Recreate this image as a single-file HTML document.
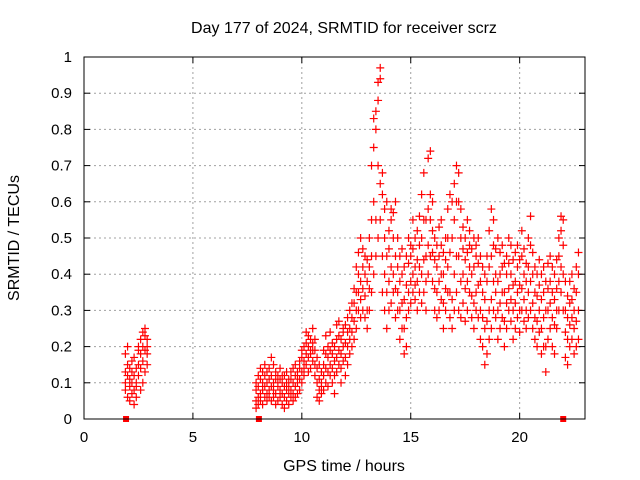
<!DOCTYPE html>
<html><head><meta charset="utf-8"><style>
body{margin:0;background:#fff}
svg{display:block;font-family:"Liberation Sans",sans-serif;font-size:15px}
</style></head><body>
<svg id="chart" width="640" height="480" viewBox="0 0 640 480">
<rect width="640" height="480" fill="#fff"/>
<g id="grid"></g>
<g id="pts"></g>
<rect x="84" y="57" width="501" height="362" fill="none" stroke="#000" stroke-width="1"/>
<g id="ticks"></g>
<text x="344" y="33" text-anchor="middle" style="font-size:16px">Day 177 of 2024, SRMTID for receiver scrz</text>
<text x="344" y="471" text-anchor="middle" style="font-size:16px">GPS time / hours</text>
<text transform="translate(19,238) rotate(-90)" text-anchor="middle" style="font-size:16px">SRMTID / TECUs</text>
</svg>
<script>
const xTicks=[0,5,10,15,20];
const yTicks=[0,0.1,0.2,0.3,0.4,0.5,0.6,0.7,0.8,0.9,1];
const yTickLabels=["0","0.1","0.2","0.3","0.4","0.5","0.6","0.7","0.8","0.9","1"];
const squareTimes=[1.93,8.03,22.0];
const times=[1.9,2.0,2.1,2.2,2.3,2.4,2.5,2.6,2.7,2.8,2.9,
7.9,8.0,8.1,8.2,8.3,8.4,8.5,8.6,8.7,8.8,8.9,9.0,9.1,9.2,9.3,9.4,9.5,9.6,9.7,9.8,9.9,
10.0,10.1,10.2,10.3,10.4,10.5,10.6,10.7,10.8,10.9,11.0,11.1,11.2,11.3,11.4,11.5,11.6,11.7,11.8,11.9,
12.0,12.1,12.2,12.3,12.4,12.5,12.6,12.7,12.8,12.9,13.0,13.1,13.2,13.3,13.4,13.5,13.6,13.7,13.8,13.9,
14.0,14.1,14.2,14.3,14.4,14.5,14.6,14.7,14.8,14.9,15.0,15.1,15.2,15.3,15.4,15.5,15.6,15.7,15.8,15.9,
16.0,16.1,16.2,16.3,16.4,16.5,16.6,16.7,16.8,16.9,17.0,17.1,17.2,17.3,17.4,17.5,17.6,17.7,17.8,17.9,
18.0,18.1,18.2,18.3,18.4,18.5,18.6,18.7,18.8,18.9,19.0,19.1,19.2,19.3,19.4,19.5,19.6,19.7,19.8,19.9,
20.0,20.1,20.2,20.3,20.4,20.5,20.6,20.7,20.8,20.9,21.0,21.1,21.2,21.3,21.4,21.5,21.6,21.7,21.8,21.9,
22.0,22.1,22.2,22.3,22.4,22.5,22.6,22.7];
const values=[
[.08,.13,.18,.10],[.06,.12,.2,.15],[.05,.09,.14,.11],[.07,.1,.16,.13],[.04,.08,.12,.17],[.06,.1,.14,.09],[.12,.15,.19,.2],[.08,.14,.18,.22],[.1,.16,.2,.24],[.13,.19,.23,.25],[.15,.2,.22,.18],
[.05,.08,.1,.03],[.06,.09,.12,.04],[.05,.07,.11,.14],[.04,.08,.1,.13],[.06,.09,.12,.15],[.07,.1,.05,.13],[.08,.11,.06,.14],[.05,.09,.12,.17],[.06,.08,.1,.15],[.04,.07,.11,.13],[.05,.09,.12,.1],[.06,.08,.11,.14],[.04,.07,.1,.12],[.03,.06,.09,.12],[.05,.08,.1,.13],[.04,.07,.09,.11],[.06,.08,.11,.13],[.05,.07,.1,.14],[.06,.09,.12,.15],[.07,.1,.13,.12],[.08,.11,.14,.16],
[.1,.13,.17,.19],[.12,.16,.2,.14],[.15,.18,.21,.24],[.13,.17,.2,.23],[.14,.18,.22,.19],[.16,.19,.21,.25],[.12,.15,.19,.22],[.06,.1,.14,.17],[.05,.08,.11,.15],[.07,.1,.13,.09],[.08,.12,.15,.19],[.1,.14,.18,.23],[.09,.13,.17,.2],[.12,.15,.19,.24],[.1,.14,.18,.21],[.07,.12,.16,.2],[.13,.17,.22,.26],[.15,.19,.23,.27],[.1,.14,.18,.22],[.16,.2,.24,.25],
[.12,.17,.21,.26],[.15,.2,.24,.28],[.18,.22,.25,.3],[.2,.24,.28,.32],[.22,.27,.32,.36],[.25,.3,.35,.42],[.3,.35,.4,.46],[.28,.33,.38,.5],[.3,.36,.42,.47],[.28,.34,.4,.45],[.25,.3,.38,.44],[.3,.36,.42,.5],[.35,.45,.55,.7],[.4,.6,.75,.83],[.45,.55,.8,.85],[.5,.7,.88,.93],[.55,.65,.94,.97],[.35,.45,.62,.68],[.3,.4,.5,.58],[.25,.35,.45,.6],
[.3,.38,.47,.52],[.32,.42,.55,.58],[.35,.4,.5,.57],[.28,.36,.45,.6],[.3,.35,.42,.5],[.22,.3,.38,.45],[.25,.32,.4,.47],[.18,.25,.33,.42],[.2,.28,.37,.45],[.3,.35,.43,.5],[.32,.38,.45,.48],[.35,.4,.47,.55],[.33,.37,.42,.5],[.3,.38,.44,.52],[.35,.42,.48,.56],[.32,.4,.5,.62],[.35,.44,.55,.68],[.3,.38,.45,.55],[.4,.48,.58,.72],[.45,.55,.62,.74],
[.38,.46,.52,.6],[.3,.36,.44,.5],[.28,.35,.42,.48],[.3,.38,.45,.53],[.33,.4,.48,.55],[.25,.32,.4,.46],[.3,.36,.44,.5],[.35,.42,.5,.58],[.28,.35,.46,.62],[.25,.33,.5,.6],[.3,.4,.55,.65],[.35,.45,.6,.7],[.3,.45,.6,.68],[.28,.38,.5,.58],[.32,.4,.47,.53],[.27,.36,.44,.5],[.3,.38,.46,.55],[.35,.42,.48,.52],[.28,.34,.4,.47],[.25,.32,.42,.5],
[.3,.35,.45,.48],[.28,.37,.43,.5],[.22,.3,.38,.45],[.2,.28,.35,.42],[.15,.25,.33,.4],[.18,.27,.38,.45],[.22,.3,.42,.52],[.25,.33,.45,.58],[.3,.38,.48,.55],[.28,.35,.4,.47],[.22,.3,.38,.5],[.25,.32,.4,.46],[.28,.35,.42,.48],[.2,.27,.35,.43],[.25,.32,.4,.45],[.3,.36,.43,.5],[.27,.33,.4,.48],[.22,.3,.37,.44],[.25,.32,.38,.46],[.28,.35,.42,.48],
[.24,.3,.37,.44],[.3,.36,.45,.52],[.27,.33,.4,.47],[.25,.3,.38,.43],[.28,.35,.42,.5],[.3,.38,.48,.56],[.25,.32,.4,.46],[.22,.28,.35,.42],[.2,.27,.34,.4],[.24,.3,.37,.44],[.18,.25,.33,.4],[.2,.28,.35,.42],[.13,.2,.3,.38],[.22,.3,.36,.43],[.25,.32,.38,.45],[.2,.28,.35,.42],[.18,.26,.33,.4],[.25,.3,.36,.44],[.3,.38,.45,.5],[.35,.42,.52,.56],
[.3,.4,.48,.55],[.17,.24,.3,.38],[.15,.22,.28,.34],[.2,.26,.32,.38],[.22,.28,.33,.4],[.18,.25,.3,.36],[.2,.27,.35,.42],[.22,.3,.4,.46]];
const NS="http://www.w3.org/2000/svg";
const L=84,R=585,T=57,B=419,XMAX=23;
function xs(t){return L+t*(R-L)/XMAX;}
function ys(v){return B-v*(B-T);}
function mk(tag,attrs,parent){const e=document.createElementNS(NS,tag);for(const k in attrs)e.setAttribute(k,attrs[k]);parent.appendChild(e);return e;}
const grid=document.getElementById('grid'),ticks=document.getElementById('ticks'),pts=document.getElementById('pts');
xTicks.forEach(t=>{const x=xs(t);
 if(t>0){const g=mk('line',{x1:x,y1:T,x2:x,y2:B,stroke:'#a0a0a0','stroke-dasharray':'2,3'},grid);
 
 }
 mk('line',{x1:x,y1:B,x2:x,y2:B-6,stroke:'#000'},ticks);
 mk('line',{x1:x,y1:T,x2:x,y2:T+6,stroke:'#000'},ticks);
 const lb=mk('text',{x:x,y:B+23,'text-anchor':'middle'},ticks);lb.textContent=String(t);
 
 
});
yTicks.forEach((v,i)=>{const y=ys(v);
 if(v>0&&v<1){const g=mk('line',{x1:L,y1:y,x2:R,y2:y,stroke:'#a0a0a0','stroke-dasharray':'2,3'},grid);
 
 }
 mk('line',{x1:L,y1:y,x2:L+6,y2:y,stroke:'#000'},ticks);
 mk('line',{x1:R,y1:y,x2:R-6,y2:y,stroke:'#000'},ticks);
 const lb=mk('text',{x:72,y:y+5,'text-anchor':'end'},ticks);lb.textContent=yTickLabels[i];
 
 
});
let d='';
times.forEach((t,i)=>{values[i].forEach(v=>{const x=xs(t),y=ys(v);d+=`M${x-4} ${y}h8M${x} ${y-4}v8`;});});
const p=mk('path',{d:d,stroke:'#ff0000','stroke-width':1.2,fill:'none'},pts);


squareTimes.forEach(t=>{const s=mk('rect',{x:xs(t)-3,y:ys(0)-3,width:6,height:6,fill:'#ff0000'},pts);
 
 });
</script>
</body></html>
